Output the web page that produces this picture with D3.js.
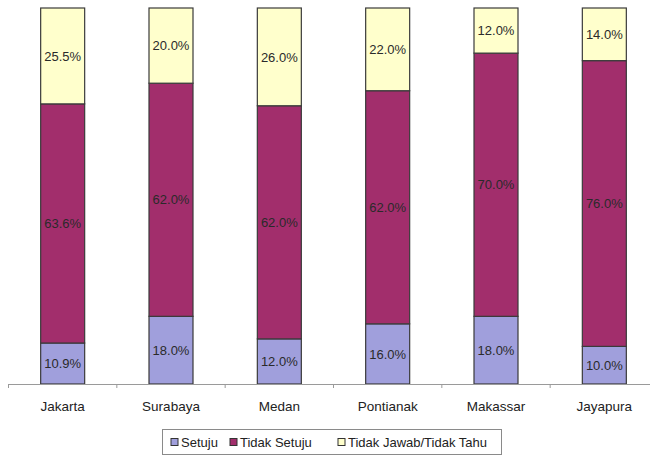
<!DOCTYPE html>
<html>
<head>
<meta charset="utf-8">
<script src="https://cdn.jsdelivr.net/npm/d3@7/dist/d3.min.js"></script>
<style>
  html, body { margin: 0; padding: 0; background: #fff; }
  svg { display: block; font-family: "Liberation Sans", Arial, sans-serif; }
</style>
</head>
<body>
<svg id="chart" width="650" height="457"></svg>
<script>
// Survey answers per city, in percent
const cities = ["Jakarta", "Surabaya", "Medan", "Pontianak", "Makassar", "Jayapura"];
const setuju = [10.9, 18.0, 12.0, 16.0, 18.0, 10.0];
const tidakSetuju = [63.6, 62.0, 62.0, 62.0, 70.0, 76.0];
const tidakJawab = [25.5, 20.0, 26.0, 22.0, 12.0, 14.0];
const seriesNames = ["Setuju", "Tidak Setuju", "Tidak Jawab/Tidak Tahu"];
const seriesColors = ["#a09fdc", "#a22e6c", "#ffffcc"];

const rows = cities.map((c, i) => ({
  city: c,
  s0: setuju[i], s1: tidakSetuju[i], s2: tidakJawab[i]
}));
const keys = ["s0", "s1", "s2"];

const svg = d3.select("#chart");
const x = d3.scaleBand().domain(cities).range([8.5, 658.5]).paddingInner(0).paddingOuter(0);
const y = d3.scaleLinear().domain([0, 100]).range([384, 8]);
const barW = 44;

const stacked = d3.stack().keys(keys)(rows);

const layers = svg.append("g").selectAll("g")
  .data(stacked).join("g")
  .attr("fill", (d, i) => seriesColors[i]);

layers.selectAll("rect")
  .data(d => d).join("rect")
  .attr("x", d => x(d.data.city) + x.bandwidth() / 2 - barW / 2)
  .attr("y", d => y(d[1]))
  .attr("width", barW)
  .attr("height", d => y(d[0]) - y(d[1]))
  .attr("stroke", "#3a3a3a")
  .attr("stroke-width", 1.2);

// Value labels centred in each segment
layers.selectAll("text")
  .data(d => d).join("text")
  .attr("x", d => x(d.data.city) + x.bandwidth() / 2)
  .attr("y", d => (y(d[0]) + y(d[1])) / 2)
  .attr("dy", "0.36em")
  .attr("text-anchor", "middle")
  .attr("font-size", "13px")
  .attr("fill", "#2a2a2a")
  .text(d => (d[1] - d[0]).toFixed(1) + "%");

// Category axis
const axis = d3.axisBottom(x).tickSize(0).tickPadding(17);
const ax = svg.append("g").attr("transform", "translate(0,384)").call(axis);
ax.select(".domain").attr("stroke", "#9a9a9a").attr("stroke-width", 1.2);
ax.selectAll("text").attr("font-size", "13.5px").attr("fill", "#222")
  .attr("font-family", "'Liberation Sans', Arial, sans-serif");
// boundary tick marks between categories
const bounds = cities.map(c => x(c)).concat([x.range()[1]]);
ax.selectAll(".bound").data(bounds).join("line")
  .attr("class", "bound")
  .attr("x1", d => d).attr("x2", d => d)
  .attr("y1", 0).attr("y2", 4)
  .attr("stroke", "#9a9a9a");

// Legend
const lg = svg.append("g");
lg.append("rect").attr("x", 162.5).attr("y", 429.5).attr("width", 339).attr("height", 25)
  .attr("fill", "#fff").attr("stroke", "#8a8a8a");
const legendX = [171, 230, 338];
seriesNames.forEach((name, i) => {
  lg.append("rect").attr("x", legendX[i]).attr("y", 438.5).attr("width", 7).attr("height", 7)
    .attr("fill", seriesColors[i]).attr("stroke", "#333").attr("stroke-width", 1);
  lg.append("text").attr("x", legendX[i] + 10).attr("y", 446.5)
    .attr("font-size", "13px").attr("fill", "#222").text(name);
});
</script>
</body>
</html>
